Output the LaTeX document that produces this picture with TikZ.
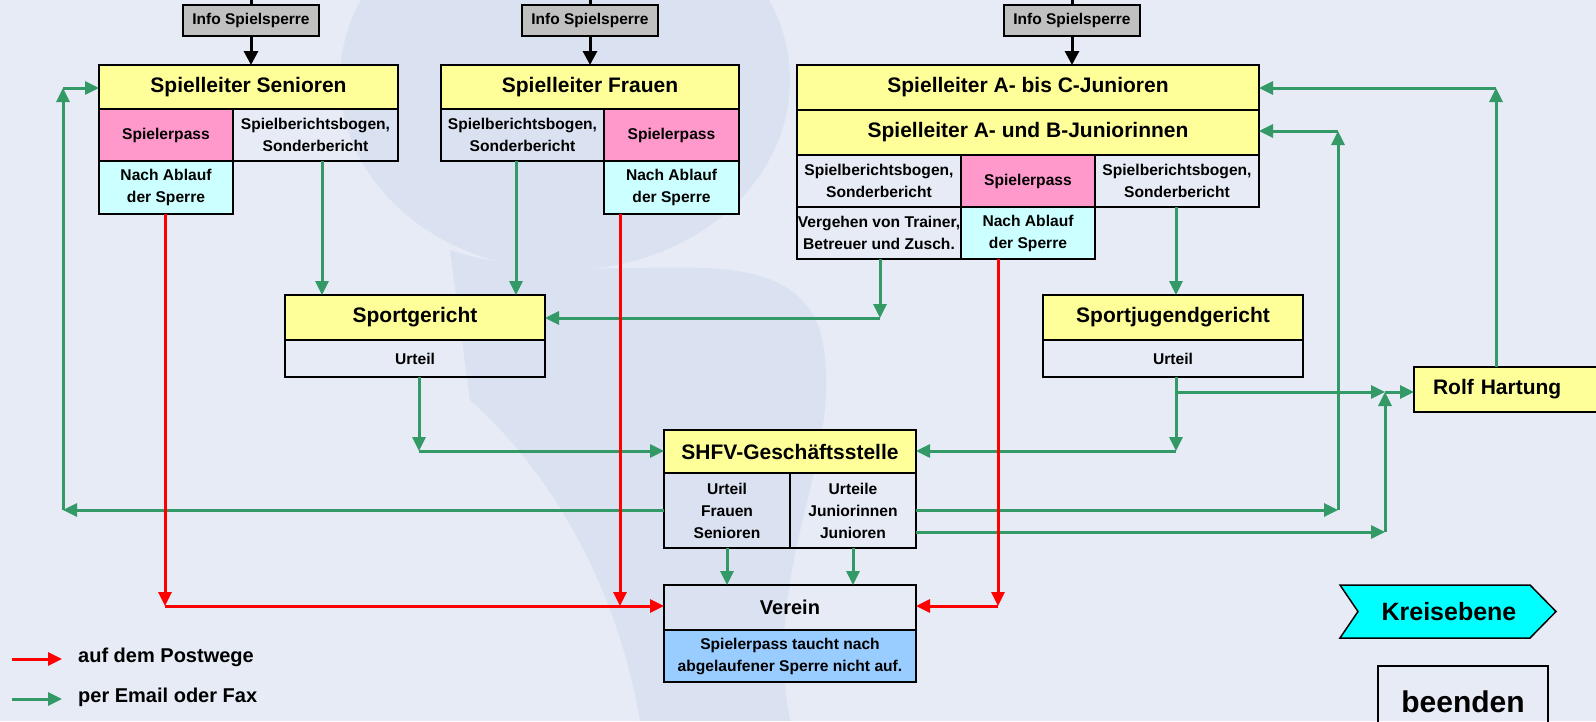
\documentclass[tikz,border=0pt]{standalone}
\usepackage{fontspec}
\setmainfont{Liberation Sans}
\usetikzlibrary{arrows.meta}
\definecolor{bg}{HTML}{E6EBF5}
\definecolor{wm}{HTML}{DAE1F0}
\definecolor{yel}{HTML}{FFFF99}
\definecolor{pnk}{HTML}{FF99CC}
\definecolor{lcy}{HTML}{CCFFFF}
\definecolor{lbl}{HTML}{99CCFF}
\definecolor{gry}{HTML}{C0C0C0}
\definecolor{cya}{HTML}{00FFFF}
\definecolor{grn}{HTML}{339966}
\definecolor{rd}{HTML}{FF0000}
\tikzset{
 cell/.style={draw=black, line width=2pt, inner sep=0pt, outer sep=0pt, align=center, font=\bfseries\fontsize{15.6}{22}\selectfont},
 ttl/.style={cell, fill=yel, font=\bfseries\fontsize{21}{25}\selectfont},
 info/.style={cell, fill=gry, minimum width=136pt, minimum height=31pt, font=\bfseries\fontsize{15.5}{18}\selectfont},
 garr/.style={draw=grn, line width=3pt, -{Triangle[length=14pt,width=13pt]}},
 rarr/.style={draw=rd, line width=3pt, -{Triangle[length=14pt,width=13pt]}},
 barr/.style={draw=black, line width=3pt, -{Triangle[length=14pt,width=14pt]}},
 bln/.style={draw=black, line width=3pt},
 legtxt/.style={anchor=west, inner sep=0pt, font=\bfseries\fontsize{20}{22}\selectfont},
}
\begin{document}
\begin{tikzpicture}[x=1pt,y=-1pt]
\useasboundingbox (0,0) rectangle (1596,721);
\clip (0,0) rectangle (1596,721);
\fill[bg] (0,0) rectangle (1596,721);
% watermark
\fill[wm] (565,80) ellipse [x radius=225, y radius=190];
\fill[wm] (450,250) .. controls (600,300) and (780,220) .. (820,330) .. controls (850,450) and (760,560) .. (790,721) -- (640,721) .. controls (620,600) and (560,480) .. (470,400) -- cycle;

% Info boxes
\node[info] (info1) at (251,20.5) {Info Spielsperre};
\node[info] (info2) at (590,20.5) {Info Spielsperre};
\node[info] (info3) at (1072,20.5) {Info Spielsperre};

% Senioren
\node[ttl, minimum width=299pt, minimum height=44pt] (sen) at (248.5,87) {Spielleiter Senioren};
\node[cell, fill=pnk, minimum width=134pt, minimum height=52pt] (senPass) at (166,135) {Spielerpass};
\node[cell, minimum width=165pt, minimum height=52pt] (senSbb) at (315.5,135) {Spielberichtsbogen,\\Sonderbericht};
\node[cell, fill=lcy, minimum width=134pt, minimum height=53pt] (senNach) at (166,187.5) {Nach Ablauf\\der Sperre};

% Frauen
\node[ttl, minimum width=298pt, minimum height=44pt] (fr) at (590,87) {Spielleiter Frauen};
\node[cell, minimum width=163pt, minimum height=52pt] (frSbb) at (522.5,135) {Spielberichtsbogen,\\Sonderbericht};
\node[cell, fill=pnk, minimum width=135pt, minimum height=52pt] (frPass) at (671.5,135) {Spielerpass};
\node[cell, fill=lcy, minimum width=135pt, minimum height=53pt] (frNach) at (671.5,187.5) {Nach Ablauf\\der Sperre};

% Junioren
\node[ttl, minimum width=462pt, minimum height=45pt] (jun1) at (1028,87.5) {Spielleiter A- bis C-Junioren};
\node[ttl, minimum width=462pt, minimum height=45pt] (jun2) at (1028,132.5) {Spielleiter A- und B-Juniorinnen};
\node[cell, minimum width=164pt, minimum height=52pt] (jSbb1) at (879,181) {Spielberichtsbogen,\\Sonderbericht};
\node[cell, fill=pnk, minimum width=134pt, minimum height=52pt] (jPass) at (1028,181) {Spielerpass};
\node[cell, minimum width=164pt, minimum height=52pt] (jSbb2) at (1177,181) {Spielberichtsbogen,\\Sonderbericht};
\node[cell, minimum width=164pt, minimum height=52pt] (jVerg) at (879,233) {Vergehen von Trainer,\\Betreuer und Zusch.};
\node[cell, fill=lcy, minimum width=134pt, minimum height=52pt] (jNach) at (1028,233) {Nach Ablauf\\der Sperre};

% Gerichte
\node[ttl, minimum width=260pt, minimum height=45pt] (sg) at (415,317.5) {Sportgericht};
\node[cell, minimum width=260pt, minimum height=37pt] (sgU) at (415,358.5) {Urteil};
\node[ttl, minimum width=260pt, minimum height=45pt] (sjg) at (1173,317.5) {Sportjugendgericht};
\node[cell, minimum width=260pt, minimum height=37pt] (sjgU) at (1173,358.5) {Urteil};

% SHFV
\node[ttl, minimum width=252pt, minimum height=43pt] (shfv) at (790,451.5) {SHFV-Geschäftsstelle};
\node[cell, minimum width=126pt, minimum height=75pt] (shfvL) at (727,510.5) {Urteil\\Frauen\\Senioren};
\node[cell, minimum width=126pt, minimum height=75pt] (shfvR) at (853,510.5) {Urteile\\Juniorinnen\\Junioren};

% Verein
\node[cell, minimum width=252pt, minimum height=45pt, font=\bfseries\fontsize{20}{24}\selectfont] (verein) at (790,607.5) {Verein};
\node[cell, fill=lbl, minimum width=252pt, minimum height=52pt] (vblue) at (790,656) {Spielerpass taucht nach\\abgelaufener Sperre nicht auf.};

% Rolf Hartung
\node[ttl, anchor=west, minimum height=45pt, text width=157pt, align=left, inner xsep=19pt] (rolf) at (1414,389.5) {Rolf Hartung};

% Kreisebene
\path[draw=black, line width=1.5pt, fill=cya] (1340,585) -- (1530,585) -- (1556,611.5) -- (1530,638) -- (1340,638) -- (1358,611.5) -- cycle;
\node[inner sep=0pt, font=\bfseries\fontsize{25}{28}\selectfont] (kreis) at (1449,612) {Kreisebene};

% beenden
\node[draw=black, line width=2pt, minimum width=170pt, minimum height=80pt, anchor=north] (beendbox) at (1463,665) {};
\node[anchor=base, inner sep=0pt, font=\bfseries\fontsize{30}{32}\selectfont] (beenden) at (1463,712) {beenden};

% black connectors
\coordinate (t1) at (251,0);
\coordinate (t2) at (590,0);
\coordinate (t3) at (1072,0);
\draw[bln] (t1) -- (info1.north);
\draw[bln] (t2) -- (info2.north);
\draw[bln] (t3) -- (info3.north);
\draw[barr] (info1.south) -- (info1.south |- sen.north);
\draw[barr] (info2.south) -- (info2.south |- fr.north);
\draw[barr] (info3.south) -- (info3.south |- jun1.north);

% green connectors
\coordinate (a1) at (322,0);
\coordinate (a2) at (516,0);
\draw[garr] (senSbb.south -| a1) -- (sg.north -| a1);
\draw[garr] (frSbb.south -| a2) -- (sg.north -| a2);
\coordinate (c3) at (880,318);
\draw[garr] (jVerg.south -| c3) -- (c3);
\draw[garr] (c3) -- (sg.east |- c3);
\coordinate (c4) at (419,451);
\draw[garr] (sgU.south -| c4) -- (c4);
\draw[garr] (c4) -- (shfv.west |- c4);
\coordinate (a5) at (1176,0);
\draw[garr] (jSbb2.south -| a5) -- (sjg.north -| a5);
\coordinate (c6) at (1176,451);
\draw[garr] (sjgU.south -| c6) -- (c6);
\draw[garr] (c6) -- (shfv.east |- c6);
\coordinate (c7a) at (1176,392);
\coordinate (c7) at (1385,392);
\draw[garr] (c7a) -- (c7);
\draw[garr] (c7) -- (rolf.west |- c7);
\coordinate (c8) at (63,510);
\coordinate (c8t) at (63,88);
\draw[garr] (shfvL.west |- c8) -- (c8);
\draw[garr] (c8) -- (c8t);
\draw[garr] (c8t) -- (sen.west |- c8t);
\coordinate (c9) at (1338,510);
\coordinate (c9t) at (1338,131);
\draw[garr] (shfvR.east |- c9) -- (c9);
\draw[garr] (c9) -- (c9t);
\draw[garr] (c9t) -- (jun2.east |- c9t);
\coordinate (c10) at (1385,532);
\draw[garr] (shfvR.east |- c10) -- (c10);
\draw[garr] (c10) -- (c7);
\coordinate (c11) at (1496,88);
\draw[garr] (rolf.north -| c11) -- (c11);
\draw[garr] (c11) -- (jun1.east |- c11);
\draw[garr] (shfvL.south) -- (verein.north -| shfvL.south);
\draw[garr] (shfvR.south) -- (verein.north -| shfvR.south);

% red connectors
\coordinate (r1) at (165,606);
\coordinate (r2) at (620,606);
\coordinate (r3) at (998,606);
\draw[rarr] (senNach.south -| r1) -- (r1);
\draw[rarr] (r1) -- (verein.west |- r1);
\draw[rarr] (frNach.south -| r2) -- (r2);
\draw[rarr] (jNach.south -| r3) -- (r3);
\draw[rarr] (r3) -- (verein.east |- r3);

% legend
\coordinate (l1a) at (12,659);
\coordinate (l1b) at (62,659);
\coordinate (l2a) at (12,699);
\coordinate (l2b) at (62,699);
\draw[rarr] (l1a) -- (l1b);
\draw[garr] (l2a) -- (l2b);
\node[legtxt] (leg1) at (78,657) {auf dem Postwege};
\node[legtxt] (leg2) at (78,697) {per Email oder Fax};
\end{tikzpicture}
\end{document}
